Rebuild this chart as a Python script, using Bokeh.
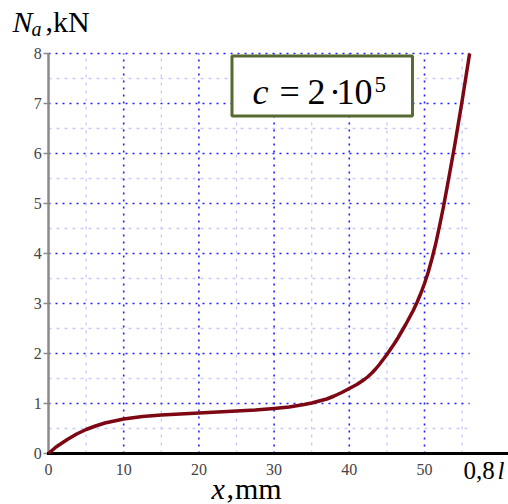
from bokeh.plotting import figure
from bokeh.models import Range1d, Label, BoxAnnotation
from bokeh.embed import file_html
from bokeh.resources import INLINE

# ---- data ----
X_MM = [0, 1, 2.5, 3.75, 5, 6.25, 7.5, 10, 12.5, 15, 17.5, 20, 22.5, 25, 27.5, 30, 32, 34, 35, 36, 37, 38, 39, 40,
        41, 42, 42.5, 43, 43.5, 44, 44.5, 45, 45.5, 46, 46.5, 47, 47.5, 48, 48.5, 49, 49.5, 50, 50.5,
        51, 51.5, 52, 52.5, 53, 54, 55, 56]
N_KN = [0, 0.13, 0.28, 0.39, 0.48, 0.55, 0.61, 0.69, 0.74, 0.77, 0.79, 0.81, 0.83, 0.85, 0.87, 0.90, 0.93, 0.98, 1.01, 1.05, 1.09, 1.15, 1.22, 1.30,
        1.38, 1.48, 1.54, 1.61, 1.69, 1.78, 1.88, 1.98, 2.09, 2.2, 2.32, 2.45, 2.58, 2.72, 2.86, 3.02, 3.2, 3.4, 3.63,
        3.9, 4.2, 4.55, 4.92, 5.32, 6.15, 7.05, 8.0]

X_TICKS = [0, 10, 20, 30, 40, 50]
Y_TICKS = [0, 1, 2, 3, 4, 5, 6, 7, 8]
X_MAJOR_GRID = [10, 20, 30, 40, 50]
X_MINOR_GRID = [5, 15, 25, 35, 45, 55]
Y_MAJOR_GRID = [1, 2, 3, 4, 5, 6, 7, 8]
Y_MINOR_GRID = [0.5, 1.5, 2.5, 3.5, 4.5, 5.5, 6.5, 7.5]
GRID_X_END = 56
Y_MAX = 8

SERIF = "Liberation Serif"

# whole canvas is the plotting frame; axes are drawn by hand so that the
# surrounding titles are not clipped
X_VIEW = (-6.383, 61.17)
Y_VIEW = (-1.02, 9.06)
TICK_LEN_X = 0.66   # ~5 px in data units
PX_PER_Y = 50.0     # screen pixels per data unit on y

p = figure(width=508, height=504, output_backend="svg", toolbar_location=None,
           x_range=Range1d(*X_VIEW), y_range=Range1d(*Y_VIEW),
           min_border=0, min_border_left=0, min_border_right=0,
           min_border_top=0, min_border_bottom=0)
p.outline_line_color = None
p.xaxis.visible = False
p.yaxis.visible = False
p.xgrid.visible = False
p.ygrid.visible = False

# grid
p.segment(x0=X_MINOR_GRID, y0=[0] * len(X_MINOR_GRID), x1=X_MINOR_GRID, y1=[Y_MAX] * len(X_MINOR_GRID),
          line_color="#c8c8ff", line_width=1.3, line_dash="3 5", level="underlay")
p.segment(x0=[0] * len(Y_MINOR_GRID), y0=Y_MINOR_GRID, x1=[GRID_X_END] * len(Y_MINOR_GRID), y1=Y_MINOR_GRID,
          line_color="#c8c8ff", line_width=1.3, line_dash="3 5", level="underlay")
p.segment(x0=X_MAJOR_GRID, y0=[0] * len(X_MAJOR_GRID), x1=X_MAJOR_GRID, y1=[Y_MAX] * len(X_MAJOR_GRID),
          line_color="#2020ff", line_width=1.6, line_dash="2 5", level="underlay")
p.segment(x0=[0] * len(Y_MAJOR_GRID), y0=Y_MAJOR_GRID, x1=[GRID_X_END] * len(Y_MAJOR_GRID), y1=Y_MAJOR_GRID,
          line_color="#2020ff", line_width=1.6, line_dash="2 5", level="underlay")

# y axis (gray) with outward ticks and labels
p.segment(x0=[0], y0=[0], x1=[0], y1=[Y_MAX], line_color="#8a8a8a", line_width=2.5)
p.segment(x0=[-TICK_LEN_X] * len(Y_TICKS), y0=Y_TICKS, x1=[0] * len(Y_TICKS), y1=Y_TICKS,
          line_color="#8a8a8a", line_width=1.5)
p.text(x=[-TICK_LEN_X - 0.25] * len(Y_TICKS), y=Y_TICKS, text=[str(t) for t in Y_TICKS],
       text_font={"value": SERIF}, text_font_size={"value": "16px"}, text_color="#444444",
       text_align="right", text_baseline="middle")

# x axis (black, running to the right edge) with labels
p.segment(x0=[-0.2], y0=[0], x1=[X_VIEW[1]], y1=[0], line_color="black", line_width=3)
p.text(x=X_TICKS, y=[-0.2] * len(X_TICKS), text=[str(t) for t in X_TICKS],
       text_font={"value": SERIF}, text_font_size={"value": "16px"}, text_color="#444444",
       text_align="center", text_baseline="top")

# curve
p.line(X_MM, N_KN, line_color="#7d0712", line_width=3.5, line_join="round")

# annotation box
p.add_layout(BoxAnnotation(left=24.4, right=48.4, top=7.95, bottom=6.75,
                           fill_color="white", fill_alpha=1.0,
                           line_color="#566A32", line_width=3, line_alpha=1.0))


def lab(x, y, text, size_px, italic=False, color="black"):
    # lift by a fraction of the font size so the glyph baseline sits at y
    yy = y + 0.33 * size_px / PX_PER_Y
    p.add_layout(Label(x=x, y=yy, text=text, text_font=SERIF, text_font_size=f"{size_px}px",
                       text_font_style="italic" if italic else "normal",
                       text_color=color, text_baseline="alphabetic", text_align="left"))


# box text: c = 2·10^5
lab(27.13, 6.994, "c", 36, italic=True)
lab(30.72, 6.994, "=", 36)
lab(34.44, 6.994, "2", 36)
lab(37.30, 6.994, "·", 36)
lab(38.30, 6.994, "10", 36)
lab(43.35, 7.226, "5", 23)

# y title: N_a, kN
lab(-4.79, 8.446, "N", 30, italic=True)
lab(-2.26, 8.36, "a", 20, italic=True)
lab(-0.40, 8.446, ",", 30)
lab(0.60, 8.446, "kN", 30)

# x title: x, mm
lab(21.68, -0.906, "x", 30, italic=True)
lab(23.67, -0.906, ",", 30)
lab(24.80, -0.906, "mm", 30)

# 0,8 l
lab(55.19, -0.506, "0,8", 25)
lab(59.70, -0.506, "l", 25, italic=True)

open("out.html", "w").write(file_html(p, INLINE))
